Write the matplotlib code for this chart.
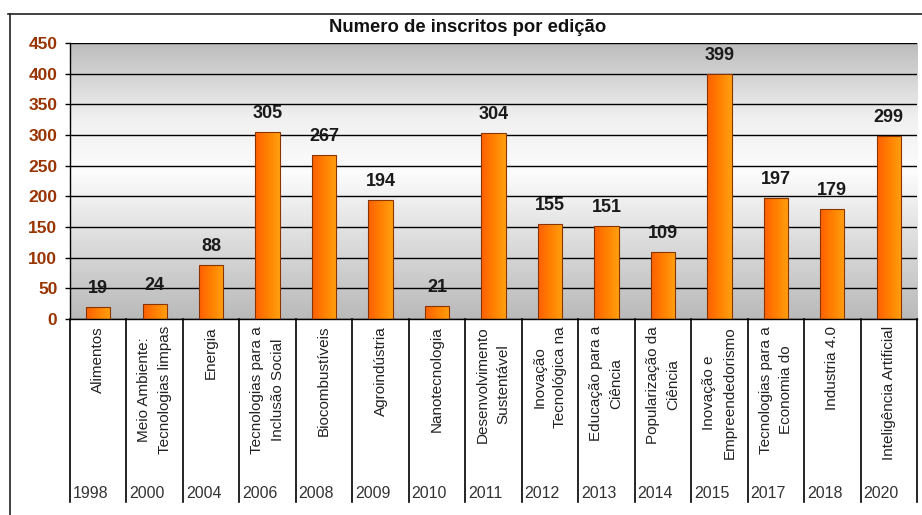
import numpy as np
import matplotlib
matplotlib.use('Agg')
import matplotlib.pyplot as plt
from matplotlib.colors import LinearSegmentedColormap
from matplotlib.lines import Line2D
import matplotlib.transforms as mtransforms

# ---------------- data ----------------
categories = [
    "Alimentos",
    "Meio Ambiente:\nTecnologias limpas",
    "Energia",
    "Tecnologias para a\nInclusão Social",
    "Biocombustíveis",
    "Agroindústria",
    "Nanotecnologia",
    "Desenvolvimento\nSustentável",
    "Inovação\nTecnológica na",
    "Educação para a\nCiência",
    "Popularização da\nCiência",
    "Inovação e\nEmpreendedorismo",
    "Tecnologias para a\nEconomia do",
    "Industria 4.0",
    "Inteligência Artificial",
]
years = ["1998", "2000", "2004", "2006", "2008", "2009", "2010", "2011",
         "2012", "2013", "2014", "2015", "2017", "2018", "2020"]
values = [19, 24, 88, 305, 267, 194, 21, 304, 155, 151, 109, 399, 197, 179, 299]
yticks = [0, 50, 100, 150, 200, 250, 300, 350, 400, 450]
title = "Numero de inscritos por edição"

# ---------------- style ----------------
plt.rcParams['font.family'] = ['Liberation Sans', 'DejaVu Sans']

W, H = 922, 515
fig = plt.figure(figsize=(W / 100, H / 100), dpi=100)
L, R, T, B = 70, 917, 43, 319
ax = fig.add_axes([L / W, 1 - B / H, (R - L) / W, (B - T) / H])
n = len(values)
ymax = yticks[-1]

# background vertical gradient
ys = np.linspace(0, ymax, 256)
g = np.interp(ys, [0, 60, 240, 330, 450], [0.73, 0.79, 0.99, 0.94, 0.74])
bg = np.stack([g, g, g], axis=-1)[:, None, :]
ax.imshow(bg, extent=(-0.5, n - 0.5, 0, ymax), origin='lower', aspect='auto',
          zorder=0, interpolation='bicubic')

# bars with horizontal orange gradient
cmap = LinearSegmentedColormap.from_list('org', ['#ff6000', '#ff8000', '#ffa010'])
grad = np.linspace(0, 1, 64).reshape(1, -1)
bars = ax.bar(range(n), values, width=0.43, facecolor='none',
              edgecolor='#8a3500', linewidth=0.8, zorder=3)
for p in bars.patches:
    x0, y0 = p.get_x(), p.get_y()
    im = ax.imshow(grad, extent=(x0, x0 + p.get_width(), y0, y0 + p.get_height()),
                   cmap=cmap, aspect='auto', zorder=2.5, origin='lower')
    im.set_clip_path(p)

ax.set_xlim(-0.5, n - 0.5)
ax.set_ylim(0, ymax)

# value labels
for i, v in enumerate(values):
    ax.annotate(str(v), (i, v), xytext=(0, 10), textcoords='offset points',
                ha='center', va='baseline', fontsize=13, fontweight='bold',
                color='#1a1a1a', zorder=5)

# axes styling
ax.set_yticks(yticks)
ax.yaxis.grid(True, color='black', linewidth=1.0)
ax.set_axisbelow(True)
ax.set_xticks([])
for s in ['top', 'right']:
    ax.spines[s].set_visible(False)
for s in ['left', 'bottom']:
    ax.spines[s].set_color('black')
    ax.spines[s].set_linewidth(1.0)
ax.tick_params(axis='y', direction='out', length=3.6, width=1.0, color='black',
               labelcolor='#993300', labelsize=12.5, pad=5.5)
for lbl in ax.get_yticklabels():
    lbl.set_fontweight('bold')

# table below the axis
trans = mtransforms.blended_transform_factory(ax.transData, ax.transAxes)
tb = -(502 - B) / (B - T)
for k in range(n + 1):
    ax.plot([k - 0.5, k - 0.5], [0, tb], transform=trans, color='black',
            linewidth=1.2, clip_on=False)
for i, cat in enumerate(categories):
    ax.text(i, -(326 - B) / (B - T), cat, transform=trans, rotation=90,
            ha='center', va='top', fontsize=11, linespacing=1.6,
            multialignment='center', color='#222222')
    ax.text(i - 0.5 + 0.05, -(493 - B) / (B - T), years[i], transform=trans,
            ha='left', va='center', fontsize=11.5, color='#333333')

# title
fig.text(468 / W, 1 - 28 / H, title, ha='center', va='center',
         fontsize=13.3, fontweight='bold', color='#111111')

# outer frame lines
fig.add_artist(Line2D([9.5 / W, 9.5 / W], [0, 1 - 14 / H], color='#222222', linewidth=1.2))
fig.add_artist(Line2D([8 / W, 1], [1 - 14 / H, 1 - 14 / H], color='#222222', linewidth=1.2))

fig.savefig('out.png', dpi=100)
